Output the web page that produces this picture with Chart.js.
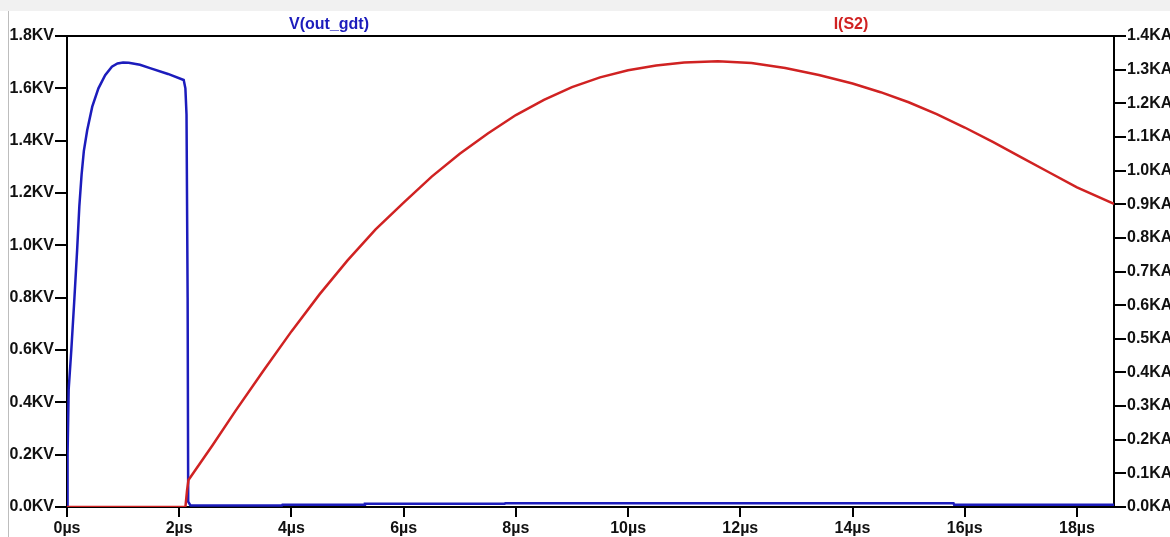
<!DOCTYPE html>
<html lang="en">
<head>
    <meta charset="UTF-8">
    <title>V(out_gdt) / I(S2)</title>
    <script src="https://cdn.jsdelivr.net/npm/chart.js"></script>
    <style>
        html, body { margin: 0; padding: 0; background: #fff; overflow: hidden; }
        canvas { display: block; }
    </style>
</head>
<body>
    <canvas id="plot" width="1170" height="537"></canvas>

    <script>
        // time axis (µs)
        var xMax = 18.66;
        var xTicks = [0, 2, 4, 6, 8, 10, 12, 14, 16, 18];
        var vTicks = [0, 0.2, 0.4, 0.6, 0.8, 1.0, 1.2, 1.4, 1.6, 1.8];
        var iTicks = [0, 0.1, 0.2, 0.3, 0.4, 0.5, 0.6, 0.7, 0.8, 0.9, 1.0, 1.1, 1.2, 1.3, 1.4];

        // V(out_gdt) in KV
        var vTime = [0, 0.01, 0.03, 0.077, 0.13, 0.18, 0.22, 0.26, 0.30, 0.36, 0.45, 0.56, 0.68, 0.80, 0.90, 1.0, 1.1, 1.3, 1.48, 1.8, 2.08, 2.11, 2.13, 2.15, 2.16, 2.2, 3.83, 3.84, 5.3, 5.31, 7.8, 7.81, 15.8, 15.81, 18.66];
        var vValues = [0, 0.2, 0.45, 0.60, 0.79, 0.98, 1.15, 1.27, 1.36, 1.44, 1.53, 1.60, 1.65, 1.683, 1.695, 1.699, 1.698, 1.69, 1.677, 1.655, 1.632, 1.60, 1.50, 0.8, 0.02, 0.006, 0.006, 0.009, 0.009, 0.012, 0.012, 0.014, 0.014, 0.009, 0.009];

        // I(S2) in KA
        var iTime = [0, 2.11, 2.14, 2.165, 2.6, 3.0, 3.5, 4.0, 4.5, 5.0, 5.5, 6.0, 6.5, 7.0, 7.5, 8.0, 8.5, 9.0, 9.5, 10.0, 10.5, 11.0, 11.6, 12.2, 12.8, 13.4, 14.0, 14.5, 15.0, 15.5, 16.0, 16.5, 17.0, 17.5, 18.0, 18.66];
        var iValues = [0, 0, 0.05, 0.08, 0.185, 0.285, 0.405, 0.522, 0.632, 0.733, 0.825, 0.905, 0.982, 1.05, 1.11, 1.165, 1.21, 1.248, 1.277, 1.298, 1.312, 1.321, 1.325, 1.32, 1.305, 1.284, 1.259, 1.233, 1.203, 1.168, 1.128, 1.085, 1.04, 0.995, 0.95, 0.901];

        function pairs(xs, ys) {
            return xs.map(function (x, i) { return { x: x, y: ys[i] }; });
        }
        function fixTicks(list) {
            return function (scale) {
                scale.ticks = list.map(function (v) { return { value: v }; });
            };
        }

        Chart.defaults.font.family = "'Liberation Sans', Arial, sans-serif";
        Chart.defaults.font.size = 16;
        Chart.defaults.font.weight = 'bold';
        Chart.defaults.color = '#111';

        var blue = '#1c1cbc';
        var red = '#d02222';

        // background, screenshot frame, top border and trace names
        var decor = {
            id: 'decor',
            beforeDraw: function (chart) {
                var ctx = chart.ctx;
                ctx.save();
                ctx.fillStyle = '#fff';
                ctx.fillRect(0, 0, chart.width, chart.height);
                ctx.fillStyle = '#f1f1f1';
                ctx.fillRect(0, 0, chart.width, 11);
                ctx.strokeStyle = '#bdbdbd';
                ctx.lineWidth = 1;
                ctx.beginPath();
                ctx.moveTo(8.5, 11);
                ctx.lineTo(8.5, chart.height);
                ctx.stroke();
                ctx.restore();
            },
            afterDraw: function (chart) {
                var ctx = chart.ctx;
                var a = chart.chartArea;
                ctx.save();
                ctx.strokeStyle = '#000';
                ctx.lineWidth = 2;
                ctx.beginPath();
                ctx.moveTo(a.left - 1, a.top);
                ctx.lineTo(a.right + 1, a.top);
                ctx.stroke();
                ctx.font = "bold 16px 'Liberation Sans', Arial, sans-serif";
                ctx.textAlign = 'center';
                ctx.textBaseline = 'middle';
                ctx.fillStyle = blue;
                ctx.fillText('V(out_gdt)', 329, 25);
                ctx.fillStyle = red;
                ctx.fillText('I(S2)', 851, 25);
                ctx.restore();
            }
        };

        var axisGrid = { drawOnChartArea: false, drawTicks: true, color: '#000', lineWidth: 2 };

        new Chart(document.getElementById('plot'), {
            type: 'line',
            data: {
                datasets: [{
                    label: 'I(S2)',
                    data: pairs(iTime, iValues),
                    yAxisID: 'yI',
                    borderColor: red,
                    borderWidth: 2.5,
                    pointRadius: 0,
                    tension: 0,
                    fill: false
                }, {
                    label: 'V(out_gdt)',
                    data: pairs(vTime, vValues),
                    yAxisID: 'yV',
                    borderColor: blue,
                    borderWidth: 2.5,
                    pointRadius: 0,
                    tension: 0,
                    fill: false
                }]
            },
            options: {
                responsive: false,
                animation: false,
                layout: { padding: { top: 36, left: 0, right: 0, bottom: 0 } },
                plugins: {
                    legend: { display: false },
                    tooltip: { enabled: false }
                },
                scales: {
                    x: {
                        type: 'linear',
                        position: 'bottom',
                        min: 0,
                        max: xMax,
                        afterBuildTicks: fixTicks(xTicks),
                        afterFit: function (s) { s.height = 30; },
                        ticks: {
                            padding: 2,
                            maxRotation: 0,
                            autoSkip: false,
                            color: '#111',
                            callback: function (v) { return v + 'µs'; }
                        },
                        grid: Object.assign({ tickLength: 10 }, axisGrid),
                        border: { display: true, color: '#000', width: 2 }
                    },
                    yV: {
                        type: 'linear',
                        position: 'left',
                        min: 0,
                        max: 1.8,
                        afterBuildTicks: fixTicks(vTicks),
                        afterFit: function (s) { s.width = 67; },
                        ticks: {
                            padding: 1,
                            autoSkip: false,
                            color: '#111',
                            callback: function (v) { return v.toFixed(1) + 'KV'; }
                        },
                        grid: Object.assign({ tickLength: 12 }, axisGrid),
                        border: { display: true, color: '#000', width: 2 }
                    },
                    yI: {
                        type: 'linear',
                        position: 'right',
                        min: 0,
                        max: 1.4,
                        afterBuildTicks: fixTicks(iTicks),
                        afterFit: function (s) { s.width = 56; },
                        ticks: {
                            padding: 1,
                            autoSkip: false,
                            color: '#111',
                            callback: function (v) { return v.toFixed(1) + 'KA'; }
                        },
                        grid: Object.assign({ tickLength: 12 }, axisGrid),
                        border: { display: true, color: '#000', width: 2 }
                    }
                }
            },
            plugins: [decor]
        });
    </script>
</body>
</html>
